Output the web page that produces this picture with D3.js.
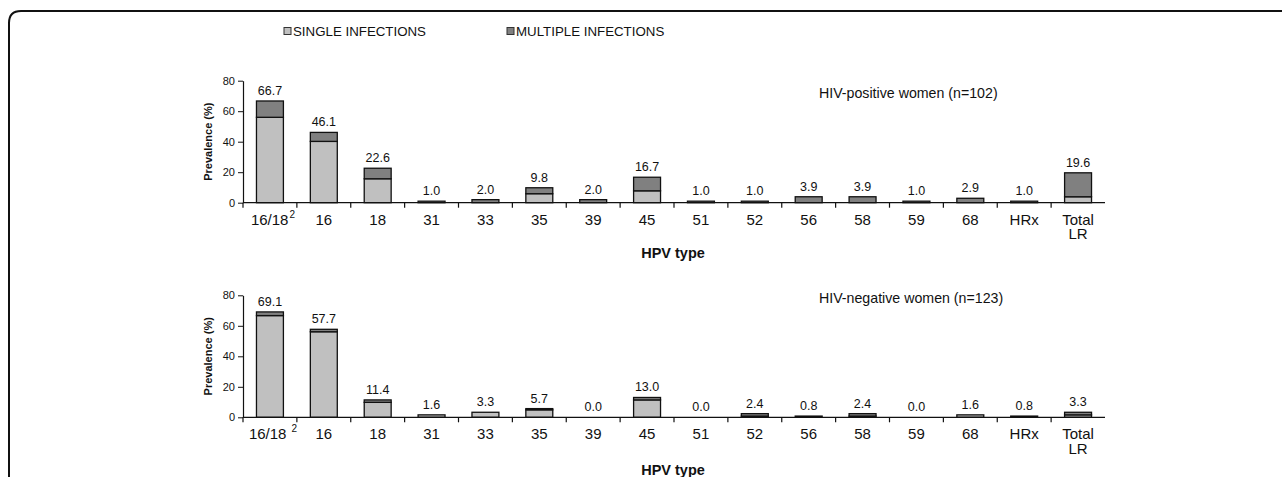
<!DOCTYPE html>
<html><head><meta charset="utf-8">
<script src="https://cdn.jsdelivr.net/npm/d3@7"></script>
<style>body{margin:0;background:#fff}svg{display:block}text{font-family:"Liberation Sans",Arial,sans-serif;fill:#111}</style>
</head><body>
<svg id="c" width="1282" height="477"></svg>
<script>
const categories = ["16/18","16","18","31","33","35","39","45","51","52","56","58","59","68","HRx","Total LR"];
const posSingle   = [56.0,40.2,15.7,0,0,5.9,0,7.8,0,0,0,0,0,0,0,3.9];
const posMultiple = [10.7,5.9,6.9,1.0,2.0,3.9,2.0,8.9,1.0,1.0,3.9,3.9,1.0,2.9,1.0,15.7];
const posTotal    = ["66.7","46.1","22.6","1.0","2.0","9.8","2.0","16.7","1.0","1.0","3.9","3.9","1.0","2.9","1.0","19.6"];
const negSingle   = [66.7,56.1,9.8,1.6,3.3,4.9,0,11.4,0,0.8,0,0.8,0,1.6,0,1.6];
const negMultiple = [2.4,1.6,1.6,0,0,0.8,0,1.6,0,1.6,0.8,1.6,0,0,0.8,1.7];
const negTotal    = ["69.1","57.7","11.4","1.6","3.3","5.7","0.0","13.0","0.0","2.4","0.8","2.4","0.0","1.6","0.8","3.3"];
const yTicks = [0,20,40,60,80];
const seriesNames = ["SINGLE INFECTIONS","MULTIPLE INFECTIONS"];
const panelTitles = ["HIV-positive women (n=102)","HIV-negative women (n=123)"];
const colSingle = "#c0c0c0", colMultiple = "#808080";

const svg = d3.select("#c");
// frame
svg.append("path").attr("d","M9,490 L9,23 Q9,11 21,11 L1290,11")
  .attr("fill","none").attr("stroke","#111").attr("stroke-width",2);

// legend
const leg = [{x:284,c:colSingle},{x:507,c:colMultiple}];
leg.forEach((l,i)=>{
  svg.append("rect").attr("x",l.x).attr("y",27.5).attr("width",7).attr("height",7)
    .attr("fill",l.c).attr("stroke","#333").attr("stroke-width",1);
  svg.append("text").attr("x",l.x+9).attr("y",36).attr("font-size",13.3).text(seriesNames[i]);
});

const x = d3.scaleBand().domain(categories).range([243,1105]).paddingInner(0.5).paddingOuter(0.25);

function panel(y0, single, multiple, totals, title, titleY, hpvOff){
  const y = d3.scaleLinear().domain([0,80]).range([y0, y0-122]);
  const g = svg.append("g");
  // y axis
  const ya = g.append("g").attr("transform","translate(243,0)").call(d3.axisLeft(y).tickValues(yTicks).tickSize(5).tickSizeOuter(0));
  ya.select(".domain").attr("stroke","#111").attr("stroke-width",1.2);
  ya.selectAll(".tick line").attr("stroke","#111");
  ya.selectAll(".tick text").attr("font-size",11).attr("x",-8).attr("font-family","Liberation Sans, Arial, sans-serif").attr("fill","#111");
  // bars
  categories.forEach((c,i)=>{
    const bx = x(c), bw = x.bandwidth();
    if(single[i]>0){
      g.append("rect").attr("x",bx).attr("y",y(single[i])).attr("width",bw).attr("height",y(0)-y(single[i]))
        .attr("fill",colSingle).attr("stroke","#111").attr("stroke-width",1.3);
    }
    if(multiple[i]>0){
      g.append("rect").attr("x",bx).attr("y",y(single[i]+multiple[i])).attr("width",bw)
        .attr("height",y(single[i])-y(single[i]+multiple[i]))
        .attr("fill",colMultiple).attr("stroke","#111").attr("stroke-width",1.3);
    }
    g.append("text").attr("x",bx+bw/2).attr("y",y(single[i]+multiple[i])-6).attr("text-anchor","middle")
      .attr("font-size",12.5).text(totals[i]);
  });
  // x axis line and ticks
  g.append("line").attr("x1",243).attr("x2",1105).attr("y1",y0).attr("y2",y0).attr("stroke","#111").attr("stroke-width",1.3);
  const step = x.step();
  categories.forEach((c,i)=>{
    const tx = x(c) - step*0.25;
    g.append("line").attr("x1",tx).attr("x2",tx).attr("y1",y0).attr("y2",y0+5).attr("stroke","#111").attr("stroke-width",1.2);
  });
  // category labels
  categories.forEach((c,i)=>{
    const cx = x(c)+x.bandwidth()/2;
    if(c==="Total LR"){
      const t = g.append("text").attr("x",cx).attr("y",y0+22).attr("text-anchor","middle").attr("font-size",15);
      t.append("tspan").attr("x",cx).text("Total");
      t.append("tspan").attr("x",cx).attr("dy",14.5).text("LR");
    } else if(c==="16/18"){
      const t = g.append("text").attr("x",cx+3).attr("y",y0+22).attr("text-anchor","middle").attr("font-size",15);
      t.append("tspan").text("16/18");
      t.append("tspan").attr("font-size",10).attr("dy",-7).attr("dx", y0>300?5:1).text("2");
    } else {
      g.append("text").attr("x",cx).attr("y",y0+22).attr("text-anchor","middle").attr("font-size",15).text(c);
    }
  });
  g.append("text").attr("x",673).attr("y",y0+hpvOff).attr("text-anchor","middle").attr("font-size",14.5)
    .attr("font-weight","bold").text("HPV type");
  g.append("text").attr("transform",`translate(212,${y0-61}) rotate(-90)`).attr("text-anchor","middle")
    .attr("font-size",11).attr("font-weight","bold").text("Prevalence (%)");
  g.append("text").attr("x",819).attr("y",titleY).attr("font-size",14.2).text(title);
}
panel(202.7, posSingle, posMultiple, posTotal, panelTitles[0], 98, 55);
panel(417.3, negSingle, negMultiple, negTotal, panelTitles[1], 303, 58);
</script>
</body></html>
